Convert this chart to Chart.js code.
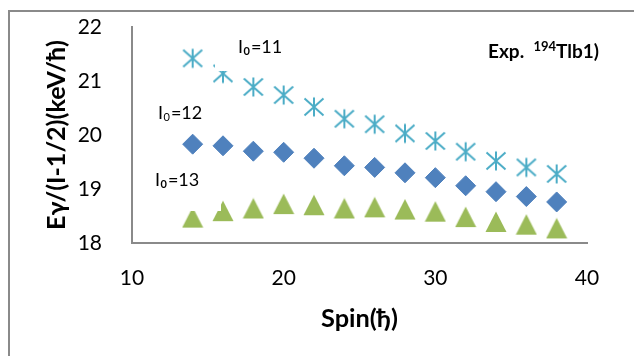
<!DOCTYPE html>
<html>
<head>
<meta charset="utf-8">
<script src="https://cdn.jsdelivr.net/npm/chart.js@4"></script>
<style>
  html, body { margin: 0; padding: 0; background: #fff; }
  #wrap { width: 634px; height: 356px; }
</style>
</head>
<body>
<div id="wrap"><canvas id="chart" width="634" height="356"></canvas></div>
<script>
const spins = [14, 16, 18, 20, 22, 24, 26, 28, 30, 32, 34, 36, 38];
const i0_11 = [21.42, 21.14, 20.89, 20.74, 20.52, 20.30, 20.20, 20.03, 19.89, 19.69, 19.52, 19.40, 19.28];
const i0_12 = [19.83, 19.80, 19.70, 19.68, 19.57, 19.43, 19.40, 19.30, 19.21, 19.06, 18.95, 18.86, 18.76];
const i0_13 = [18.47, 18.59, 18.64, 18.72, 18.70, 18.64, 18.66, 18.62, 18.58, 18.48, 18.39, 18.34, 18.27];

const FONT = 'Lato, "Open Sans", sans-serif';

// excel style markers
const starImg = document.createElement('canvas');
starImg.width = 22; starImg.height = 22;
(() => {
  const c = starImg.getContext('2d');
  c.strokeStyle = '#4BACC6';
  c.lineWidth = 2;
  c.beginPath();
  c.moveTo(11, 1.5); c.lineTo(11, 20.5);
  c.moveTo(1.5, 2.5); c.lineTo(20.5, 19.5);
  c.moveTo(1.5, 19.5); c.lineTo(20.5, 2.5);
  c.stroke();
})();

const triImg = document.createElement('canvas');
triImg.width = 22; triImg.height = 22;
(() => {
  const c = triImg.getContext('2d');
  c.fillStyle = '#9BBB59';
  c.beginPath();
  c.moveTo(11, 0.5); c.lineTo(21.5, 21); c.lineTo(0.5, 21);
  c.closePath();
  c.fill();
})();

const toXY = vals => vals.map((v, i) => ({ x: spins[i], y: v }));

// pick a font size so the text spans the given width
function fitFont(ctx, text, width, weight) {
  ctx.font = weight + ' 20px ' + FONT;
  const size = 20 * width / ctx.measureText(text).width;
  return weight + ' ' + size.toFixed(2) + 'px ' + FONT;
}

function subLabel(ctx, x, y, rest, boldSub) {
  ctx.fillStyle = '#000';
  ctx.textBaseline = 'middle';
  ctx.textAlign = 'left';
  ctx.font = '18px ' + FONT;
  ctx.fillText('I', x, y);
  let w = ctx.measureText('I').width;
  ctx.font = (boldSub ? 'bold ' : '') + '11px ' + FONT;
  ctx.fillText('0', x + w + 0.5, y + 4);
  w += ctx.measureText('0').width + 1.5;
  ctx.font = '18px ' + FONT;
  ctx.fillText(rest, x + w, y);
}

const extras = {
  id: 'extras',
  afterDatasetsDraw(chart) {
    const ctx = chart.ctx;
    ctx.save();
    // text boxes sit over the markers
    ctx.fillStyle = '#fff';
    ctx.fillRect(215, 28, 85, 43);
    ctx.fillRect(140, 95, 82, 36);
    ctx.fillRect(133, 158, 88, 53);
    subLabel(ctx, 238, 47, '=11', true);
    subLabel(ctx, 158, 113, '=12', false);
    subLabel(ctx, 155, 180, '=13', true);

    ctx.fillStyle = '#000';
    ctx.textBaseline = 'alphabetic';
    ctx.font = 'bold 19px ' + FONT;
    let x = 488;
    ctx.fillText('Exp.  ', x, 58);
    x += ctx.measureText('Exp.  ').width;
    ctx.font = 'bold 13px ' + FONT;
    ctx.fillText('194', x, 51);
    x += ctx.measureText('194').width;
    ctx.font = 'bold 19px ' + FONT;
    ctx.fillText('Tlb1)', x, 58);

    // axis titles
    ctx.textAlign = 'center';
    ctx.textBaseline = 'middle';
    const xTitle = 'Spin(ђ)';
    ctx.font = fitFont(ctx, xTitle, 77, 'bold');
    ctx.fillText(xTitle, 359.5, 319);
    const yTitle = 'Eγ/(I-1/2)(keV/ħ)';
    ctx.font = fitFont(ctx, yTitle, 190, 'bold');
    ctx.translate(57, 135);
    ctx.rotate(-Math.PI / 2);
    ctx.fillText(yTitle, 0, 0);
    ctx.setTransform(1, 0, 0, 1, 0, 0);

    // outer frame
    ctx.strokeStyle = '#8a8a8a';
    ctx.lineWidth = 2;
    ctx.strokeRect(9, 11, 700, 400);
    ctx.restore();
  }
};

new Chart(document.getElementById('chart'), {
  type: 'scatter',
  data: {
    datasets: [
      { label: 'I0=11', data: toXY(i0_11), pointStyle: starImg },
      { label: 'I0=12', data: toXY(i0_12), pointStyle: 'rectRot', pointRadius: 10,
        backgroundColor: '#4F81BD', borderColor: '#4F81BD', borderWidth: 1 },
      { label: 'I0=13', data: toXY(i0_13), pointStyle: triImg }
    ]
  },
  options: {
    responsive: false,
    animation: false,
    layout: { padding: { left: 0, top: 27, right: 47, bottom: 0 } },
    plugins: { legend: { display: false }, tooltip: { enabled: false } },
    scales: {
      x: {
        type: 'linear', min: 10, max: 40,
        afterFit: s => { s.height = 113; s.paddingLeft = 0; s.paddingRight = 0; },
        grid: { display: false },
        border: { display: true, color: '#8a8a8a', width: 2 },
        ticks: { stepSize: 10, padding: 15, color: '#000', font: { family: FONT, size: 21 } }
      },
      y: {
        min: 18, max: 22,
        afterFit: s => { s.width = 132; s.paddingTop = 0; s.paddingBottom = 0; },
        grid: { display: false },
        border: { display: true, color: '#8a8a8a', width: 2 },
        ticks: { stepSize: 1, padding: 22, color: '#000', font: { family: FONT, size: 21 } }
      }
    }
  },
  plugins: [extras]
});
</script>
</body>
</html>
